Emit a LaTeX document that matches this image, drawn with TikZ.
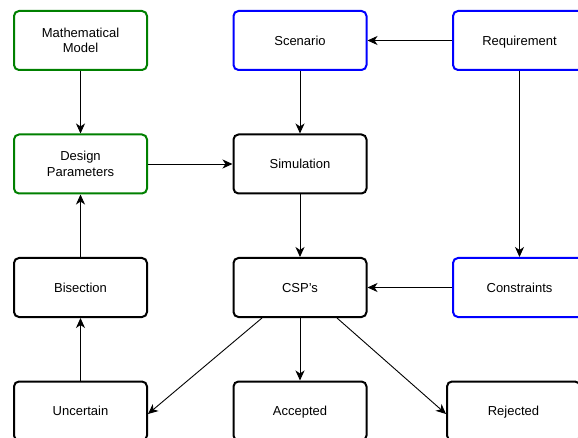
\documentclass[tikz,border=0pt]{standalone}
\usepackage{fontspec}
\setmainfont{Liberation Sans}
\usepackage{tikz}
\usetikzlibrary{arrows,arrows.meta,shapes,calc}
\definecolor{boxgreen}{RGB}{0,128,0}
\definecolor{boxblue}{RGB}{0,0,255}

\begin{document}
\begin{tikzpicture}[x=1pt,y=-1pt,
        box/.style={rectangle,draw,rounded corners=5pt,line width=2pt,minimum width=133pt,minimum height=59pt,align=center,font=\fontsize{13}{15.5}\selectfont,inner sep=2pt,text depth=0pt},
        link/.style={-{Stealth[length=10pt,width=9pt,inset=3pt]},line width=0.9pt}]
        \useasboundingbox (0,0) rectangle (578,438);
        \node[box,draw=boxgreen] (model) at (80.5,40.5) {Mathematical\\Model};
        \node[box,draw=boxblue] (scenario) at (300,40.5) {Scenario};
        \node[box,draw=boxblue] (req) at (519.5,40.5) {Requirement};
        \node[box,draw=boxgreen] (design) at (80.5,164) {Design\\Parameters};
        \node[box] (sim) at (300,164) {Simulation};
        \node[box] (bisect) at (80.5,287.5) {Bisection};
        \node[box] (csp) at (300,287.5) {CSP's};
        \node[box,draw=boxblue] (constr) at (519.5,287.5) {Constraints};
        \node[box] (uncert) at (80.5,411) {Uncertain};
        \node[box] (accept) at (300,411) {Accepted};
        \node[box] (reject) at (513.5,411) {Rejected};
        
        \draw[link] (model) -- (design);
        \draw[link] (design) -- (sim);
        \draw[link] (req) -- (scenario);
        \draw[link] (scenario) -- (sim);
        \draw[link] (req) -- (constr);
        \draw[link] (sim) -- (csp);
        \draw[link] (constr) -- (csp);
        \draw[link] (uncert) -- (bisect);
        \draw[link] (bisect) -- (design);
        \draw[link] ([xshift=-38pt]csp.south) -- ([yshift=-3pt]uncert.east);
        \draw[link] (csp) -- (accept);
        \draw[link] ([xshift=37pt]csp.south) -- ([yshift=-3pt]reject.west);
        \end{tikzpicture}
\end{document}
